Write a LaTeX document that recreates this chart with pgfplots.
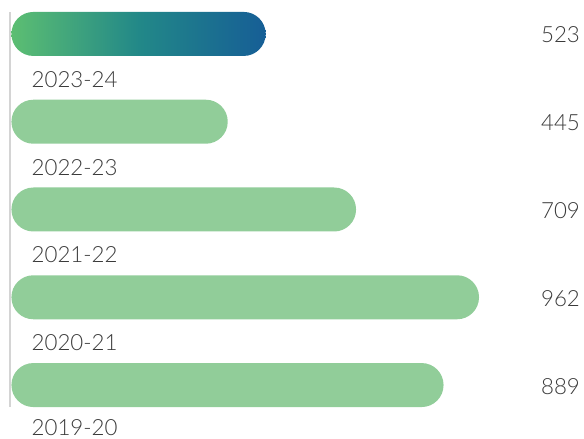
\documentclass[border=0pt]{standalone}
\usepackage{pgfplots}
\pgfplotsset{compat=1.18}
\usepackage{fontspec}
\setmainfont{Lato Light}
\definecolor{barg}{RGB}{145,205,153}
\definecolor{gA}{RGB}{92,190,114}
\definecolor{gB}{RGB}{34,136,136}
\definecolor{gC}{RGB}{22,94,150}
\definecolor{txt}{RGB}{58,58,58}
\definecolor{vline}{RGB}{212,212,212}
\pgfdeclarehorizontalshading{gbar}{100bp}{color(0bp)=(gA); color(25bp)=(gA); color(50bp)=(gB); color(75bp)=(gC); color(100bp)=(gC)}
\makeatletter
\newdimen\rcxa \newdimen\rcya \newdimen\rcxb \newdimen\rcyb
\def\pgfpathrectanglecorners#1#2{%
  \pgfextractx{\rcxa}{#1}\pgfextracty{\rcya}{#1}%
  \pgfextractx{\rcxb}{#2}\pgfextracty{\rcyb}{#2}%
  \pgfpathmoveto{\pgfqpoint{\rcxa}{\rcya}}%
  \pgfpathlineto{\pgfqpoint{\rcxb}{\rcya}}%
  \pgfpathlineto{\pgfqpoint{\rcxb}{\rcyb}}%
  \pgfpathlineto{\pgfqpoint{\rcxa}{\rcyb}}%
  \pgfpathclose}
\makeatother
\begin{document}
\begin{tikzpicture}[lab/.style={inner sep=0pt, text=txt, font=\fontsize{22.3}{26}\selectfont}]
\begin{axis}[
  scale only axis, width=488pt, height=395pt,
  xmin=-4, xmax=1000, ymin=-0.25, ymax=4.25,
  axis x line=none, axis y line=left,
  axis line style={-, draw=vline, line width=2pt},
  ytick=\empty, xtick=\empty, clip=false,
]
\addplot[xbar, bar width=44pt, bar shift=0pt, draw=none,
  shading=gbar, rounded corners=21.9pt]
  coordinates {(523,4)};
\addplot[xbar, bar width=44pt, bar shift=0pt, draw=none, fill=barg, rounded corners=21.9pt]
  coordinates {(445,3) (709,2) (962,1) (889,0)};
\node[lab, anchor=base west, xshift=20pt, yshift=-54pt] at (axis cs:0,4) {2023-24};
\node[lab, anchor=base west, xshift=20pt, yshift=-54pt] at (axis cs:0,3) {2022-23};
\node[lab, anchor=base west, xshift=20pt, yshift=-53.5pt] at (axis cs:0,2) {2021-22};
\node[lab, anchor=base west, xshift=20pt, yshift=-53pt] at (axis cs:0,1) {2020-21};
\node[lab, anchor=base west, xshift=20pt, yshift=-50.5pt] at (axis cs:0,0) {2019-20};
\node[lab, anchor=base east, yshift=-9pt] at (axis cs:1170,4) {523};
\node[lab, anchor=base east, yshift=-9pt] at (axis cs:1170,3) {445};
\node[lab, anchor=base east, yshift=-9pt] at (axis cs:1170,2) {709};
\node[lab, anchor=base east, yshift=-9pt] at (axis cs:1170,1) {962};
\node[lab, anchor=base east, yshift=-9pt] at (axis cs:1170,0) {889};
\end{axis}
\pgfresetboundingbox
\path[use as bounding box] (-9.5pt,-32pt) rectangle (574.5pt,407pt);
\end{tikzpicture}
\end{document}
